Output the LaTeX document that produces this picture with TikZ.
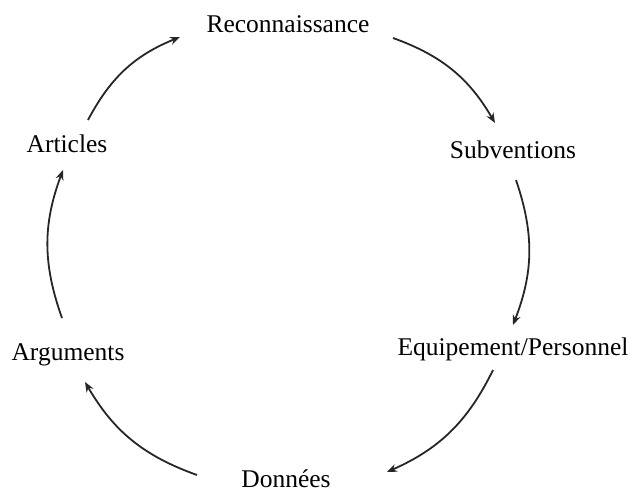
\documentclass[tikz,border=0pt]{standalone}
\usepackage{fontspec}
\setmainfont{Liberation Serif}
\usetikzlibrary{arrows.meta}
\tikzstyle{stage} = [anchor=base, inner sep=0pt, font=\fontsize{25.5}{30}\selectfont]
\tikzstyle{arrow} = [line width=1.8pt, draw=black!85, -{Stealth[length=10pt,width=8pt]}]

\begin{document}
\begin{tikzpicture}[x=1pt,y=-1pt]
\useasboundingbox (0,0) rectangle (632,495);

\node (rec) [stage] at (288,33) {Reconnaissance};
\node (sub) [stage] at (513,158) {Subventions};
\node (equ) [stage] at (513,355) {Equipement/Personnel};
\node (don) [stage] at (286,487) {Données};
\node (arg) [stage] at (68,360) {Arguments};
\node (art) [stage] at (67,152) {Articles};

\draw [arrow] ([shift={(105,5)}]rec.base) to[bend left=20] ([shift={(-18,-35)}]sub.base);
\draw [arrow] ([shift={(3,22)}]sub.base) to[bend left=20] ([shift={(0,-30)}]equ.base);
\draw [arrow] ([shift={(-20,15)}]equ.base) to[bend left=20] ([shift={(101,-15)}]don.base);
\draw [arrow] ([shift={(-89,-12)}]don.base) to[bend left=20] ([shift={(17,22)}]arg.base);
\draw [arrow] ([shift={(-6,-42)}]arg.base) to[bend left=20] ([shift={(-4,18)}]art.base);
\draw [arrow] ([shift={(21,-32)}]art.base) to[bend left=20] ([shift={(-108,4)}]rec.base);

\end{tikzpicture}
\end{document}
